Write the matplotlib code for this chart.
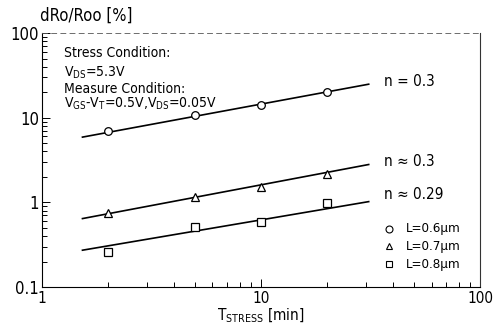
import matplotlib.pyplot as plt
from matplotlib.ticker import LogLocator, NullFormatter, FixedLocator, FixedFormatter

plt.rcParams["font.family"] = ["DejaVu Sans"]
plt.rcParams["font.stretch"] = "condensed"
plt.rcParams["mathtext.default"] = "regular"

# measured points (stress time in min, dRo/Roo in %)
t_stress = [2, 5, 10, 20]
l06_vals = [7.0, 10.8, 14.2, 19.9]
l07_vals = [0.74, 1.15, 1.51, 2.18]
l08_vals = [0.256, 0.51, 0.587, 0.98]

# fitted lines (end points)
fit_t = [1.53, 31.0]
fit_l06 = [5.9, 24.9]
fit_l07 = [0.643, 2.8]
fit_l08 = [0.272, 1.02]

x_ticks = [1, 10, 100]
x_labels = ["1", "10", "100"]
y_ticks = [0.1, 1, 10, 100]
y_labels = ["0.1", "1", "10", "100"]

legend_labels = ["L=0.6\u03bcm", "L=0.7\u03bcm", "L=0.8\u03bcm"]
n_labels = ["n = 0.3", "n \u2248 0.3", "n \u2248 0.29"]


def main() -> None:
    fig = plt.figure(figsize=(5.03, 3.31), dpi=100)
    ax = fig.add_axes([0.0835, 0.133, 0.871, 0.767])
    ax.set_xscale("log")
    ax.set_yscale("log")
    ax.set_xlim(1, 100)
    ax.set_ylim(0.1, 100)

    for ys in (fit_l06, fit_l07, fit_l08):
        ax.plot(fit_t, ys, color="black", linewidth=1.2)

    mk = dict(linestyle="none", markerfacecolor="white", markeredgecolor="black",
              markeredgewidth=0.9, markersize=5.5)
    ax.plot(t_stress, l06_vals, marker="o", **mk)
    ax.plot(t_stress, l07_vals, marker="^", **mk)
    ax.plot(t_stress, l08_vals, marker="s", **mk)

    ax.xaxis.set_major_locator(FixedLocator(x_ticks))
    ax.xaxis.set_major_formatter(FixedFormatter(x_labels))
    ax.yaxis.set_major_locator(FixedLocator(y_ticks))
    ax.yaxis.set_major_formatter(FixedFormatter(y_labels))
    for axis in (ax.xaxis, ax.yaxis):
        axis.set_minor_locator(LogLocator(base=10, subs=range(2, 10)))
        axis.set_minor_formatter(NullFormatter())
    ax.tick_params(which="both", direction="in", top=False, right=False,
                   labelsize=12, width=0.7)
    ax.tick_params(which="major", length=6, pad=2)
    ax.tick_params(axis="x", which="major", pad=3, labelsize=11)
    ax.tick_params(which="minor", length=3.5)

    for side in ("left", "bottom", "right"):
        ax.spines[side].set_linewidth(0.8)
    ax.spines["top"].set_linewidth(0.6)
    ax.spines["top"].set_linestyle((0, (6, 5)))
    ax.spines["top"].set_color("#555555")
    ax.spines["right"].set_color("#333333")

    ax.set_xlabel("T$_{STRESS}$ [min]", fontsize=11, labelpad=0)
    fig.text(0.08, 0.925, "dRo/Roo [%]", fontsize=12, ha="left", va="bottom")

    ax.text(0.05, 0.905, "Stress Condition:", transform=ax.transAxes, fontsize=10)
    ax.text(0.05, 0.83, "V$_{DS}$=5.3V", transform=ax.transAxes, fontsize=10)
    ax.text(0.05, 0.765, "Measure Condition:", transform=ax.transAxes, fontsize=10)
    ax.text(0.05, 0.705, "V$_{GS}$-V$_{T}$=0.5V,V$_{DS}$=0.05V",
            transform=ax.transAxes, fontsize=10)

    ax.text(0.78, 0.81, n_labels[0], transform=ax.transAxes, fontsize=11, va="center")
    ax.text(0.78, 0.495, n_labels[1], transform=ax.transAxes, fontsize=11, va="center")
    ax.text(0.78, 0.365, n_labels[2], transform=ax.transAxes, fontsize=11, va="center")

    markers = ["o", "^", "s"]
    for i, (m, lab) in enumerate(zip(markers, legend_labels)):
        yy = 0.23 - i * 0.07
        ax.plot([0.792], [yy], marker=m, transform=ax.transAxes, markersize=5,
                markerfacecolor="white", markeredgecolor="black",
                markeredgewidth=0.8, linestyle="none")
        ax.text(0.83, yy, lab, transform=ax.transAxes, fontsize=9.5, va="center")

    fig.savefig("out.png", dpi=100)
    plt.close(fig)


if __name__ == "__main__":
    main()
